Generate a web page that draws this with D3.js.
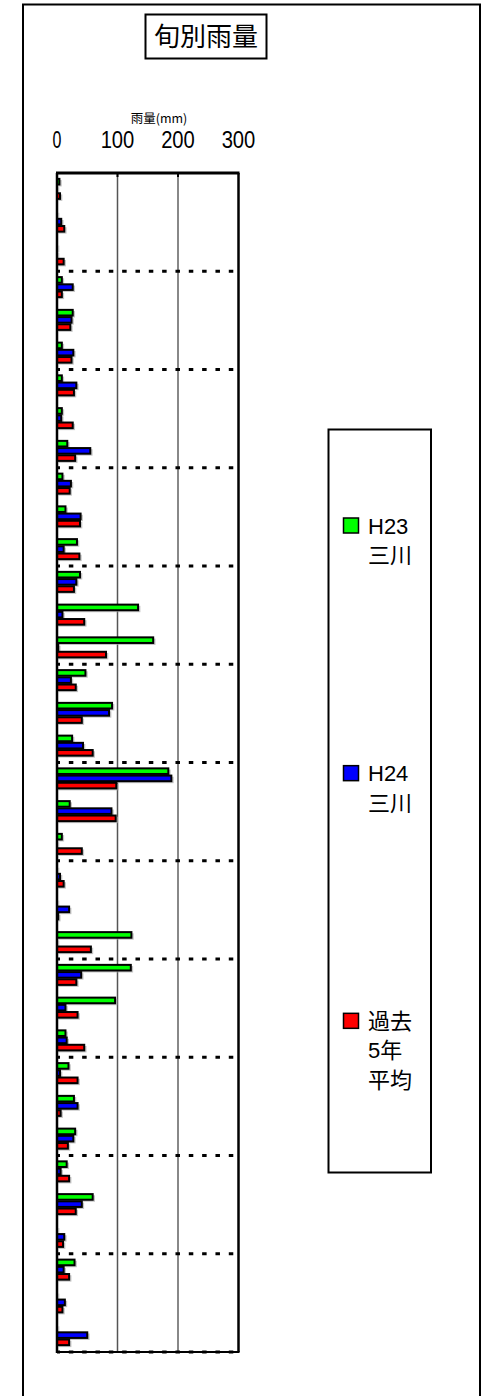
<!DOCTYPE html>
<html>
<head>
<meta charset="utf-8">
<script src="https://cdn.jsdelivr.net/npm/d3@7"></script>
<style>
  body { margin: 0; background: #fff; }
  svg { display: block; }
  text { font-family: "Liberation Sans", "Noto Sans CJK JP", sans-serif; fill: #000; }
  .cjk { font-family: "Noto Sans CJK JP", sans-serif; }
</style>
</head>
<body>
<svg id="chart" width="482" height="1396"></svg>
<script>
// 旬別雨量 — dekad rainfall, three series
var MONTHS = ['1月', '2月', '3月', '4月', '5月', '6月', '7月', '8月', '9月', '10月', '11月', '12月'];
var DEKADS = ['上旬', '中旬', '下旬'];
var categories = d3.merge(MONTHS.map(function (m) { return DEKADS.map(function (d) { return m + d; }); }));

var seriesNames = ['H23三川', 'H24三川', '過去5年平均'];
var legendLines = [['H23', '三川'], ['H24', '三川'], ['過去', '5年', '平均']];
var seriesColors = ['#00ff00', '#0000ff', '#ff0000'];

var h23 = [4, 0, 0, 8, 26, 8, 8, 8, 17, 9, 14, 33, 38, 134, 159, 47, 91, 25,
           184, 21, 8, 0, 0, 123, 122, 96, 14, 19, 28, 30, 16, 59, 0, 29, 0, 0];
var h24 = [0, 7, 0, 26, 24, 27, 32, 7, 55, 23, 39, 11, 32, 9, 2, 23, 86, 43,
           189, 90, 0, 5, 20, 0, 40, 14, 16, 5, 34, 27, 6, 41, 12, 11, 13, 50];
var avg5 = [5, 12, 11, 8, 22, 24, 28, 26, 30, 21, 38, 37, 28, 45, 81, 31, 41, 59,
            98, 97, 41, 11, 2, 56, 32, 34, 45, 34, 6, 18, 20, 31, 10, 20, 9, 20];
var seriesValues = [h23, h24, avg5];

var xTicks = [0, 100, 200, 300];
var xTickLabels = ['0', '100', '200', '300'];
var axisTitle = '雨量(mm)';
var chartTitle = '旬別雨量';

var PLOT = { left: 57, right: 238.5, top: 173, bottom: 1352 };
var LEGEND = { x: 328.5, y: 429.5, w: 102.5, h: 743 };

var svg = d3.select('#chart');

// outer frame (open at the bottom)
svg.append('path')
    .attr('d', 'M23,1396 V4.5 H480 V1396')
    .attr('fill', 'none').attr('stroke', '#000').attr('stroke-width', 2);

// title box
var titleG = svg.append('g');
titleG.append('rect')
    .attr('x', 145.5).attr('y', 14.5).attr('width', 121).attr('height', 44)
    .attr('fill', '#fff').attr('stroke', '#000').attr('stroke-width', 2);
titleG.append('text').attr('class', 'cjk')
    .attr('x', 206).attr('y', 45.5)
    .attr('text-anchor', 'middle').attr('font-size', 26)
    .text(chartTitle);

var x = d3.scaleLinear().domain([0, 300]).range([PLOT.left, PLOT.right]);
var y0 = d3.scaleBand().domain(categories).range([PLOT.top, PLOT.bottom])
    .paddingInner(0.34).paddingOuter(0.17);
var y1 = d3.scaleBand().domain(d3.range(seriesNames.length)).range([0, y0.bandwidth()]);

// axis title + tick labels above the plot
svg.append('text').attr('class', 'cjk')
    .attr('x', 159).attr('y', 122.5)
    .attr('text-anchor', 'middle').attr('font-size', 12.5)
    .text(axisTitle);
svg.append('g').selectAll('text').data(xTicks).enter().append('text')
    .attr('x', function (d) { return x(d); })
    .attr('y', 148)
    .attr('text-anchor', 'middle')
    .attr('font-size', 24)
    .attr('textLength', function (d, i) { return xTickLabels[i].length * 12.4 - 3.5; })
    .attr('lengthAdjust', 'spacingAndGlyphs')
    .text(function (d, i) { return xTickLabels[i]; });

// vertical gridlines
svg.append('g').selectAll('line').data([100, 200]).enter().append('line')
    .attr('x1', x).attr('x2', x)
    .attr('y1', PLOT.top).attr('y2', PLOT.bottom)
    .attr('stroke', function (d) { return d == 100 ? '#555' : '#888'; })
    .attr('stroke-width', function (d) { return d == 100 ? 1.5 : 2; });
// small ticks under the top border
svg.append('g').selectAll('line').data([100, 200]).enter().append('line')
    .attr('x1', x).attr('x2', x)
    .attr('y1', PLOT.top).attr('y2', PLOT.top + 4)
    .attr('stroke', '#000').attr('stroke-width', 2);

// monthly dotted separators
var monthBounds = d3.range(3, categories.length + 1, 3).map(function (i) {
    return PLOT.top + y0.step() * i;
});
svg.append('g').selectAll('line').data(monthBounds).enter().append('line')
    .attr('x1', PLOT.left).attr('x2', PLOT.right)
    .attr('y1', function (d) { return d; }).attr('y2', function (d) { return d; })
    .attr('stroke', '#000').attr('stroke-width', 3)
    .attr('stroke-dasharray', '4.5,8.83').attr('stroke-dashoffset', 1.5);

// bars
var groups = svg.append('g').selectAll('g').data(categories).enter().append('g')
    .attr('transform', function (d) { return 'translate(0,' + y0(d) + ')'; });
var bars = groups.selectAll('g').data(function (d, i) {
    return seriesValues.map(function (s, k) { return { k: k, v: s[i] }; });
}).enter().append('g');
var barH = y1.bandwidth() - 1.6;
bars.append('rect')
    .attr('x', PLOT.left + 1.5)
    .attr('y', function (d) { return y1(d.k) + 1.5; })
    .attr('width', function (d) { return x(d.v) - PLOT.left + 0.8; })
    .attr('height', barH + 0.8)
    .attr('fill', '#aaa').attr('opacity', 0.7);
bars.append('rect')
    .attr('x', PLOT.left)
    .attr('y', function (d) { return y1(d.k) + 0.3; })
    .attr('width', function (d) { return x(d.v) - PLOT.left; })
    .attr('height', barH)
    .attr('fill', function (d) { return seriesColors[d.k]; })
    .attr('stroke', '#000').attr('stroke-width', 2);

// plot frame
svg.append('line')
    .attr('x1', PLOT.left - 1).attr('x2', PLOT.right + 1)
    .attr('y1', PLOT.top).attr('y2', PLOT.top)
    .attr('stroke', '#000').attr('stroke-width', 3);
svg.append('line')
    .attr('x1', PLOT.right).attr('x2', PLOT.right)
    .attr('y1', PLOT.top).attr('y2', PLOT.bottom)
    .attr('stroke', '#000').attr('stroke-width', 2.5);
svg.append('line')
    .attr('x1', PLOT.left).attr('x2', PLOT.left)
    .attr('y1', PLOT.top).attr('y2', PLOT.bottom + 1)
    .attr('stroke', '#000').attr('stroke-width', 2.5);
svg.append('line')
    .attr('x1', PLOT.left).attr('x2', PLOT.right + 1)
    .attr('y1', PLOT.bottom).attr('y2', PLOT.bottom)
    .attr('stroke', '#000').attr('stroke-width', 2);

// legend
svg.append('rect')
    .attr('x', LEGEND.x).attr('y', LEGEND.y).attr('width', LEGEND.w).attr('height', LEGEND.h)
    .attr('fill', '#fff').attr('stroke', '#000').attr('stroke-width', 2);
var itemStep = LEGEND.h / seriesNames.length;
var items = svg.append('g').selectAll('g').data(seriesNames).enter().append('g')
    .attr('transform', function (d, i) { return 'translate(' + LEGEND.x + ',' + (LEGEND.y + 104 + i * itemStep) + ')'; });
items.append('rect')
    .attr('x', 15).attr('y', -15.5).attr('width', 15).attr('height', 15)
    .attr('fill', function (d, i) { return seriesColors[i]; })
    .attr('stroke', '#000').attr('stroke-width', 1.5);
items.each(function (d, i) {
    d3.select(this).selectAll('text').data(legendLines[i]).enter().append('text')
        .attr('class', function (t) { return /^[A-Z0-9]/.test(t) ? null : 'cjk'; })
        .attr('x', 39.5)
        .attr('y', function (t, j) { return j * 29.5; })
        .attr('font-size', 22)
        .text(function (t) { return t; });
});
</script>
</body>
</html>
